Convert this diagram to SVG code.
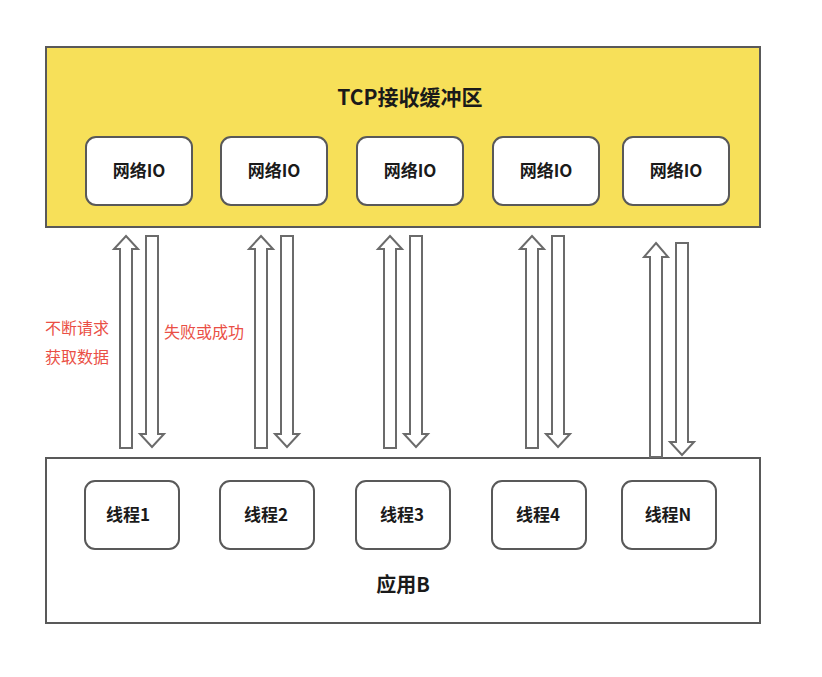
<svg xmlns="http://www.w3.org/2000/svg" width="822" height="677" viewBox="0 0 822 677">
<defs>
<style>
.cont{stroke:#595959;stroke-width:2}
.box{fill:#fff;stroke:#595959;stroke-width:2}
.lbl{font-family:"Noto Sans CJK SC","Liberation Sans",sans-serif;font-weight:bold;fill:#1a1a1a;text-anchor:middle;dominant-baseline:central}
.red{font-family:"Noto Sans CJK SC","Liberation Sans",sans-serif;fill:#ea4f45;font-size:16px;dominant-baseline:central}
.arr{fill:#fff;stroke:#6b6b6b;stroke-width:2;stroke-linejoin:miter}
</style>
</defs>
<rect width="822" height="677" fill="#fff"/>
<g id="tcp-buffer">
<rect class="cont" x="46" y="47" width="714" height="180" fill="#f7e059"/>
<text class="lbl" x="410" y="96" font-size="21">TCP接收缓冲区</text>
</g>
<g id="io1"><rect class="box" x="86" y="137" width="106" height="68" rx="10"/><text class="lbl" x="139" y="169" font-size="17">网络IO</text></g>
<g id="io2"><rect class="box" x="221" y="137" width="106" height="68" rx="10"/><text class="lbl" x="274" y="169" font-size="17">网络IO</text></g>
<g id="io3"><rect class="box" x="357" y="137" width="106" height="68" rx="10"/><text class="lbl" x="410" y="169" font-size="17">网络IO</text></g>
<g id="io4"><rect class="box" x="493" y="137" width="106" height="68" rx="10"/><text class="lbl" x="546" y="169" font-size="17">网络IO</text></g>
<g id="io5"><rect class="box" x="623" y="137" width="106" height="68" rx="10"/><text class="lbl" x="676" y="169" font-size="17">网络IO</text></g>
<g id="app-b">
<rect class="cont" x="46" y="458" width="714" height="165" fill="#fff"/>
<text class="lbl" x="403" y="583" font-size="20">应用B</text>
</g>
<g id="t1"><rect class="box" x="85" y="481" width="94" height="68" rx="10"/><text class="lbl" x="128" y="513" font-size="17">线程1</text></g>
<g id="t2"><rect class="box" x="220" y="481" width="94" height="68" rx="10"/><text class="lbl" x="266" y="513" font-size="17">线程2</text></g>
<g id="t3"><rect class="box" x="356" y="481" width="94" height="68" rx="10"/><text class="lbl" x="402" y="513" font-size="17">线程3</text></g>
<g id="t4"><rect class="box" x="492" y="481" width="94" height="68" rx="10"/><text class="lbl" x="538" y="513" font-size="17">线程4</text></g>
<g id="tN"><rect class="box" x="622" y="481" width="94" height="68" rx="10"/><text class="lbl" x="668" y="513" font-size="17">线程N</text></g>
<g id="connectors">
<polygon class="arr" points="126,236 138,249 132,249 132,448 120,448 120,249 114,249"/>
<polygon class="arr" points="146,236 158,236 158,434 164,434 152,447 140,434 146,434"/>
<polygon class="arr" points="261,236 273,249 267,249 267,448 255,448 255,249 249,249"/>
<polygon class="arr" points="281,236 293,236 293,434 299,434 287,447 275,434 281,434"/>
<polygon class="arr" points="390,236 402,249 396,249 396,448 384,448 384,249 378,249"/>
<polygon class="arr" points="410,236 422,236 422,434 428,434 416,447 404,434 410,434"/>
<polygon class="arr" points="532,236 544,249 538,249 538,448 526,448 526,249 520,249"/>
<polygon class="arr" points="552,236 564,236 564,434 570,434 558,447 546,434 552,434"/>
<polygon class="arr" points="656,243 668,257 662,257 662,457 650,457 650,257 644,257"/>
<polygon class="arr" points="676,243 688,243 688,442 694,442 682,455 670,442 676,442"/>
</g>
<g id="labels">
<text class="red" x="45" y="327">不断请求</text>
<text class="red" x="45" y="356">获取数据</text>
<text class="red" x="164" y="331">失败或成功</text>
</g>
</svg>
